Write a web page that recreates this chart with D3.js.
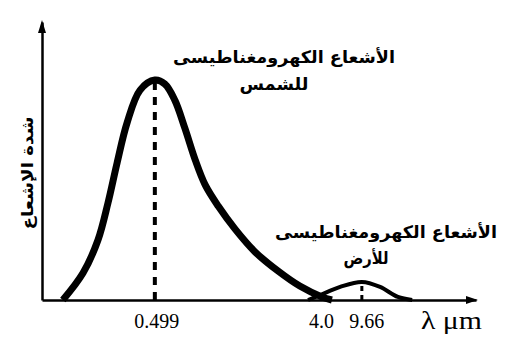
<!DOCTYPE html>
<html>
<head>
<meta charset="utf-8">
<script src="https://cdn.jsdelivr.net/npm/d3@7"></script>
<style>
html,body{margin:0;padding:0;background:#fff;}
svg{display:block;}
</style>
</head>
<body>
<svg id="chart" width="528" height="352"></svg>
<script>
// schematic wavelength position (0-100) and relative intensity (0-100)
const sunX = [4.8, 9.45, 12.9, 15.2, 17.3, 19.6, 22.6, 26.0, 28.3, 30.6, 32.9, 35.3, 37.6, 40.6, 44.5, 49.1, 54.4, 59.4, 64.5, 66.8];
const sunY = [0, 9.7, 21.6, 34.9, 49.3, 63.7, 75.5, 79.1, 77.7, 71.9, 61.9, 50.4, 41.4, 33.8, 25.5, 17.3, 10.4, 5.0, 1.1, 0];
const earthX = [61.3, 64.1, 68.7, 73.7, 77.9, 82.0, 85.3];
const earthY = [0, 1.8, 4.7, 6.5, 4.7, 1.1, 0];
const peakX = [26.0, 73.7];
const peakY = [79.1, 6.5];
const tickPos = [26.3, 64.3, 74.7];
const tickLabels = ["0.499", "4.0", "9.66"];
const xTitle = "λ μm";
const yTitle = "شدة الإشعاع";
const sunLabel = ["الأشعاع الكهرومغناطيسى", "للشمس"];
const earthLabel = ["الأشعاع الكهرومغناطيسى", "للأرض"];

const svg = d3.select("#chart");
const x = d3.scaleLinear().domain([0, 100]).range([42, 476]);
const y = d3.scaleLinear().domain([0, 100]).range([300, 22]);

// axes
const xAxis = svg.append("g").attr("transform", `translate(0,${y(0)})`)
  .call(d3.axisBottom(x).tickValues(tickPos).tickFormat((d, i) => tickLabels[i]).tickSize(0).tickPadding(0));
xAxis.select(".domain").attr("stroke", "#000").attr("stroke-width", 2.5);
xAxis.selectAll("text").attr("font-family", "'Liberation Serif', 'Times New Roman', serif")
  .attr("font-size", 20).attr("fill", "#000").attr("dy", null).attr("y", 28);

const yAxis = svg.append("g").attr("transform", `translate(${x(0)},0)`)
  .call(d3.axisLeft(y).tickValues([]).tickSizeOuter(0));
yAxis.select(".domain").attr("stroke", "#000").attr("stroke-width", 2.5);

// arrowheads
svg.append("path")
  .attr("d", `M${x(100) + 2},${y(0)} L${x(100) - 10},${y(0) - 4} L${x(100) - 10},${y(0) + 4} Z`)
  .attr("fill", "#000");
svg.append("path")
  .attr("d", `M${x(0)},${y(100) - 2} L${x(0) - 4},${y(100) + 11} L${x(0) + 4},${y(100) + 11} Z`)
  .attr("fill", "#000");

const line = d3.line().x(d => x(d[0])).y(d => y(d[1])).curve(d3.curveCatmullRom.alpha(0.5));

// dashed peak lines
svg.append("line")
  .attr("x1", x(peakX[0])).attr("x2", x(peakX[0]))
  .attr("y1", y(0)).attr("y2", y(peakY[0]))
  .attr("stroke", "#000").attr("stroke-width", 4).attr("stroke-dasharray", "8,7");
svg.append("line")
  .attr("x1", x(peakX[1])).attr("x2", x(peakX[1]))
  .attr("y1", y(0)).attr("y2", y(peakY[1]))
  .attr("stroke", "#000").attr("stroke-width", 3).attr("stroke-dasharray", "5,4");

// curves
svg.append("path").datum(sunX.map((d, i) => [d, sunY[i]]))
  .attr("d", line).attr("fill", "none").attr("stroke", "#000")
  .attr("stroke-width", 7).attr("stroke-linejoin", "round");
svg.append("path").datum(earthX.map((d, i) => [d, earthY[i]]))
  .attr("d", line).attr("fill", "none").attr("stroke", "#000")
  .attr("stroke-width", 4).attr("stroke-linejoin", "round");

// x title
svg.append("text").attr("x", 421).attr("y", 329)
  .attr("font-family", "'Liberation Serif', 'Times New Roman', serif")
  .attr("font-size", 26).attr("fill", "#000")
  .attr("textLength", 61).attr("lengthAdjust", "spacingAndGlyphs")
  .text(xTitle);

const arFont = "'DejaVu Sans', sans-serif";
function arText(cx, by, txt, size, width) {
  const t = svg.append("text").attr("x", cx).attr("y", by)
    .attr("text-anchor", "middle").attr("direction", "rtl")
    .attr("font-family", arFont).attr("font-weight", "bold")
    .attr("font-size", size).attr("fill", "#000").text(txt);
  if (width) t.attr("textLength", width).attr("lengthAdjust", "spacingAndGlyphs");
  return t;
}
arText(284, 63, sunLabel[0], 17, 222);
arText(274, 90, sunLabel[1], 17, 69);
arText(386, 238, earthLabel[0], 17, 222);
arText(366, 264, earthLabel[1], 17, 45);

// y title
svg.append("text")
  .attr("transform", `translate(33,173) rotate(-90)`)
  .attr("text-anchor", "middle").attr("direction", "rtl")
  .attr("font-family", arFont).attr("font-weight", "bold")
  .attr("font-size", 16).attr("fill", "#000")
  .attr("textLength", 113).attr("lengthAdjust", "spacingAndGlyphs")
  .text(yTitle);
</script>
</body>
</html>
